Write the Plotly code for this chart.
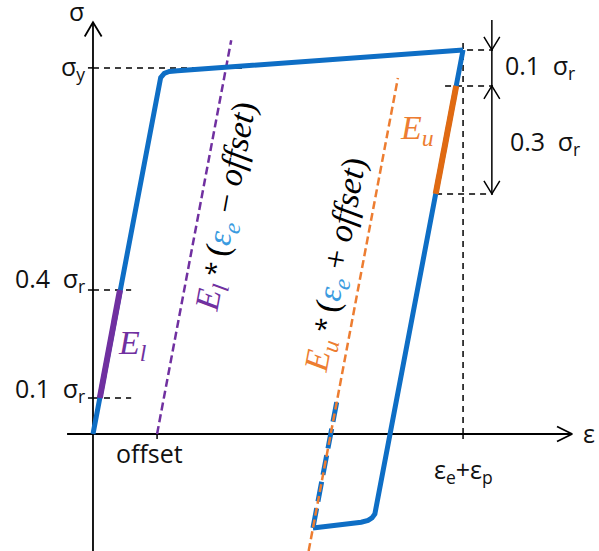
import plotly.graph_objects as go

# schematic units: stress in sigma_r, strain drawn on the same length scale
# loading branch (origin -> yield knee -> peak)
load_x = [0, 0.172, 0.176, 0.181, 0.188, 0.198, 0.212, 0.235, 1.028]
load_y = [0, 0.914, 0.945, 0.970, 0.990, 1.002, 1.007, 1.009, 1.067]

# unloading branch (peak -> reverse knee)
unload_x = [1.028, 0.791, 0.788, 0.783, 0.775, 0.764, 0.745, 0.700, 0.611]
unload_y = [1.067, -0.189, -0.205, -0.222, -0.233, -0.240, -0.245, -0.251, -0.261]

# reloading start (under the orange offset line)
reload_x = [0.611, 0.678]
reload_y = [-0.261, 0.094]

# fitted moduli segments
el_x = [0.019, 0.075]
el_y = [0.1, 0.4]
eu_x = [1.009, 0.952]
eu_y = [0.967, 0.667]

# offset lines
off_l_x = [0.178, 0.384]
off_l_y = [0, 1.094]
off_u_x = [0.599, 0.847]
off_u_y = [-0.325, 0.989]

offset = 0.178
eps_tot = 1.028
sigma_y = 1.017
sigma_top = 1.067

# axis lines and chevron heads
ax_x = [0, 0, None, -0.072, 1.331]
ax_y = [-0.325, 1.144, None, 0, 0]
head_x = [-0.023, 0, 0.024, None, 1.289, 1.331, 1.289]
head_y = [1.104, 1.144, 1.104, None, 0.021, 0, -0.021]

# ticks
tick_x = [-0.014, 0, None, -0.014, 0, None, -0.014, 0, None, offset, offset, None, eps_tot, eps_tot]
tick_y = [0.1, 0.1, None, 0.4, 0.4, None, sigma_y, sigma_y, None, 0, -0.014, None, 0, -0.014]

# dashed guides
guide_x = [0, 0.422, None, 0, 0.106, None, 0, 0.106, None,
           0.978, 1.111, None, 0.978, 1.111, None, 0.953, 1.111, None, eps_tot, eps_tot]
guide_y = [sigma_y, sigma_y, None, 0.4, 0.4, None, 0.1, 0.1, None,
           sigma_top, sigma_top, None, 0.967, 0.967, None, 0.667, 0.667, None, 1.086, 0]

# dimension arrows on the right
dim_x = [1.108, 1.108, None, 1.086, 1.108, 1.130, None, 1.086, 1.108, 1.130, None, 1.086, 1.108, 1.130]
dim_y = [1.15, 0.667, None, 1.103, sigma_top, 1.103, None, 0.931, 0.967, 0.931, None, 0.703, 0.667, 0.703]

BLUE = "#0E6EC5"
PURPLE = "#7030A0"
ORANGE = "#ED7D31"
ORANGE_D = "#E06A12"
LBLUE = "#3A9BE0"

fig = go.Figure()
fig.add_trace(go.Scatter(x=guide_x, y=guide_y, mode="lines",
                         line=dict(color="black", width=1.5, dash="6px,5px")))
fig.add_trace(go.Scatter(x=tick_x, y=tick_y, mode="lines", line=dict(color="black", width=1.5)))
fig.add_trace(go.Scatter(x=ax_x, y=ax_y, mode="lines", line=dict(color="black", width=1.8)))
fig.add_trace(go.Scatter(x=head_x, y=head_y, mode="lines", line=dict(color="black", width=1.8)))
fig.add_trace(go.Scatter(x=dim_x, y=dim_y, mode="lines", line=dict(color="black", width=1.5)))
fig.add_trace(go.Scatter(x=off_l_x, y=off_l_y, mode="lines",
                         line=dict(color=PURPLE, width=2.5, dash="8px,4px")))
fig.add_trace(go.Scatter(x=load_x, y=load_y, mode="lines", line=dict(color=BLUE, width=5)))
fig.add_trace(go.Scatter(x=unload_x, y=unload_y, mode="lines", line=dict(color=BLUE, width=5)))
fig.add_trace(go.Scatter(x=reload_x, y=reload_y, mode="lines",
                         line=dict(color=BLUE, width=5, dash="20px,7px")))
fig.add_trace(go.Scatter(x=off_u_x, y=off_u_y, mode="lines",
                         line=dict(color=ORANGE, width=2.5, dash="8px,4px")))
fig.add_trace(go.Scatter(x=el_x, y=el_y, mode="lines", line=dict(color=PURPLE, width=6)))
fig.add_trace(go.Scatter(x=eu_x, y=eu_y, mode="lines", line=dict(color=ORANGE_D, width=6)))

LAB = dict(family="Open Sans, sans-serif", size=25, color="#111111")
MATH = dict(family="Liberation Serif, serif", size=34, color="black")
SP = "\u2002"
STAR = "<span style='font-family:Open Sans;font-size:26px'>\u2005*\u2005</span>"

ann = [
    dict(x=-0.047, y=1.175, text="σ", xanchor="center", yanchor="middle", font=LAB),
    dict(x=-0.018, y=sigma_y, text="σ<sub>y</sub>", xanchor="right", yanchor="middle", font=LAB),
    dict(x=-0.018, y=0.43, text="0.4" + SP + "σ<sub>r</sub>", xanchor="right", yanchor="middle", font=LAB),
    dict(x=-0.018, y=0.125, text="0.1" + SP + "σ<sub>r</sub>", xanchor="right", yanchor="middle", font=LAB),
    dict(x=offset - 0.022, y=-0.053, text="offset", xanchor="center", yanchor="middle", font=LAB),
    dict(x=eps_tot, y=-0.1, text="ε<sub>e</sub>+ε<sub>p</sub>", xanchor="center", yanchor="middle", font=LAB),
    dict(x=1.355, y=0.004, text="ε", xanchor="left", yanchor="middle", font=LAB),
    dict(x=1.14, y=1.02, text="0.1" + SP + "σ<sub>r</sub>", xanchor="left", yanchor="middle", font=LAB),
    dict(x=1.154, y=0.81, text="0.3" + SP + "σ<sub>r</sub>", xanchor="left", yanchor="middle", font=LAB),
    dict(x=0.111, y=0.247, text="<i>E</i><sub><i>l</i></sub>", xanchor="center", yanchor="middle",
         font=dict(MATH, color=PURPLE)),
    dict(x=0.9, y=0.844, text="<i>E</i><sub><i>u</i></sub>", xanchor="center", yanchor="middle",
         font=dict(MATH, color=ORANGE)),
    dict(x=0.374, y=0.630, textangle=-79.5, xanchor="center", yanchor="middle", font=MATH,
         text="<span style='color:#7030A0'><i>E</i><sub><i>l</i></sub></span>" + STAR +
              "(<span style='color:%s'><i>ε</i><sub><i>e</i></sub></span> − <i>offset</i>)" % LBLUE),
    dict(x=0.678, y=0.470, textangle=-79.5, xanchor="center", yanchor="middle", font=MATH,
         text="<span style='color:#ED7D31'><i>E</i><sub><i>u</i></sub></span>" + STAR +
              "(<span style='color:%s'><i>ε</i><sub><i>e</i></sub></span> + <i>offset</i>)" % LBLUE),
]
for a in ann:
    a.setdefault("showarrow", False)
    a.setdefault("xref", "x")
    a.setdefault("yref", "y")

fig.update_layout(
    width=599, height=551,
    margin=dict(l=0, r=0, t=0, b=0),
    paper_bgcolor="white", plot_bgcolor="white",
    showlegend=False,
    xaxis=dict(range=[-0.2583, 1.4056], visible=False, fixedrange=True),
    yaxis=dict(range=[-0.325, 1.2056], visible=False, fixedrange=True),
    annotations=ann,
)
fig.write_html("out.html", config={"displayModeBar": False},
               post_script="document.body.style.margin='0px';")
